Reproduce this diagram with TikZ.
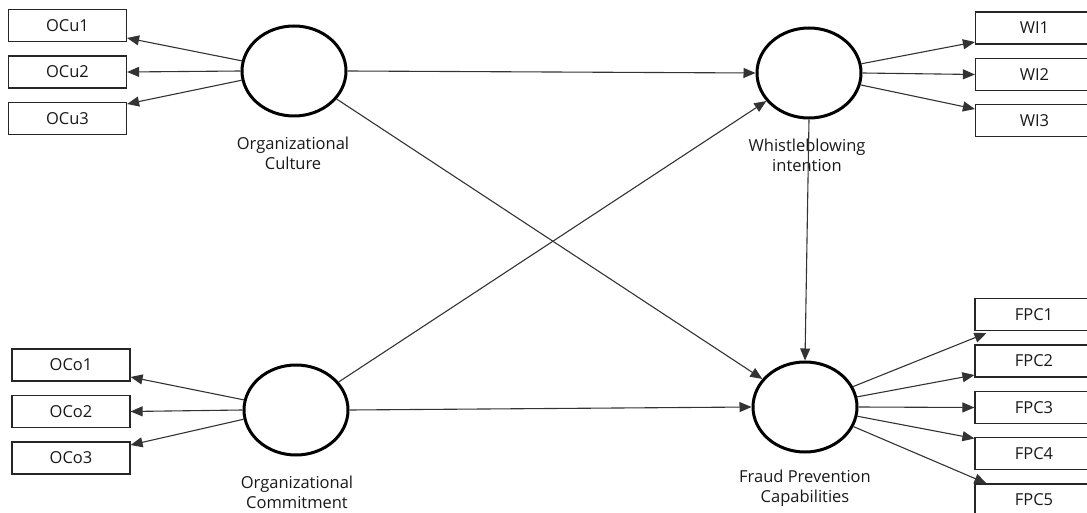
\documentclass[tikz,border=0pt]{standalone}
\usepackage{fontspec}
\setmainfont{Open Sans}
\usetikzlibrary{arrows.meta,calc,shapes.geometric}
\begin{document}
\begin{tikzpicture}[x=1pt,y=-1pt,
  ind/.style={draw=black!85, line width=1.2pt, minimum width=118pt, minimum height=32pt, inner sep=0pt, font=\fontsize{16.5}{18}\selectfont, text=black!90},
  lat/.style={draw=black, line width=3pt, ellipse, minimum width=104pt, minimum height=90pt, inner sep=0pt},
  lbl/.style={align=center, font=\fontsize{16.5}{20}\selectfont, text=black!90, inner sep=0pt},
  arr/.style={draw=black!80, line width=1.1pt, -{Triangle[length=12pt,width=10pt]}}]
\useasboundingbox (0,0) rectangle (1087,513);
\clip (0,0) rectangle (1087,513);
% indicators
\node[ind] (OCu1) at (67.5,25.5) {OCu1};
\node[ind] (OCu2) at (67.5,72) {OCu2};
\node[ind] (OCu3) at (67.5,118.5) {OCu3};
\node[ind] (OCo1) at (71,365) {OCo1};
\node[ind] (OCo2) at (71,411.5) {OCo2};
\node[ind] (OCo3) at (71,458) {OCo3};
\node[ind] (WI1) at (1034.5,28) {WI1};
\node[ind] (WI2) at (1034.5,74.5) {WI2};
\node[ind] (WI3) at (1034.5,120.5) {WI3};
\node[ind] (FPC1) at (1034,314.5) {FPC1};
\node[ind] (FPC2) at (1034,361) {FPC2};
\node[ind] (FPC3) at (1034,407.5) {FPC3};
\node[ind] (FPC4) at (1034,453.5) {FPC4};
\node[ind] (FPC5) at (1034,500) {FPC5};
% latent variables
\node[lat] (OC) at (294,71) {};
\node[lat] (WI) at (809,73) {};
\node[lat] (OCo) at (296,410) {};
\node[lat] (FPC) at (805,407) {};
% labels
\node[lbl] (OCl) at (293,153) {Organizational\\Culture};
\node[lbl] (WIl) at (807,155) {Whistleblowing\\intention};
\node[lbl] (OCol) at (297,492) {Organizational\\Commitment};
\node[lbl] (FPCl) at (805,488) {Fraud Prevention\\Capabilities};
% measurement arrows
\draw[arr] (OC.169) -- ($(OCu1.east)+(0,12.5)$);
\draw[arr] (OC.180) -- (OCu2.east);
\draw[arr] (OC.190) -- ($(OCu3.east)+(0,-14.5)$);
\draw[arr] (OCo.169.5) -- ($(OCo1.east)+(0,12)$);
\draw[arr] (OCo.180) -- (OCo2.east);
\draw[arr] (OCo.190.5) -- ($(OCo3.east)+(0,-13)$);
\draw[arr] (WI.10.5) -- ($(WI1.west)+(0,14)$);
\draw[arr] (WI.0) -- (WI2.west);
\draw[arr] (WI.347.5) -- ($(WI3.west)+(0,-11.5)$);
\draw[arr] (FPC.23.7) -- ($(FPC1.south west)+(12,2)$);
\draw[arr] (FPC.11.3) -- ($(FPC2.west)+(0,14)$);
\draw[arr] (FPC.0) -- (FPC3.west);
\draw[arr] (FPC.-10.3) -- ($(FPC4.west)+(0,-15)$);
\draw[arr] (FPC.-22.8) -- ($(FPC5.north west)+(12,0)$);
% structural arrows
\draw[arr] (OC.east) -- (WI.west);
\draw[arr] (OC) -- (FPC);
\draw[arr] (OCo) -- (WI);
\draw[arr] (OCo.east) -- (FPC.west);
\draw[arr] (WI.south) -- (FPC.north);
\end{tikzpicture}
\end{document}
